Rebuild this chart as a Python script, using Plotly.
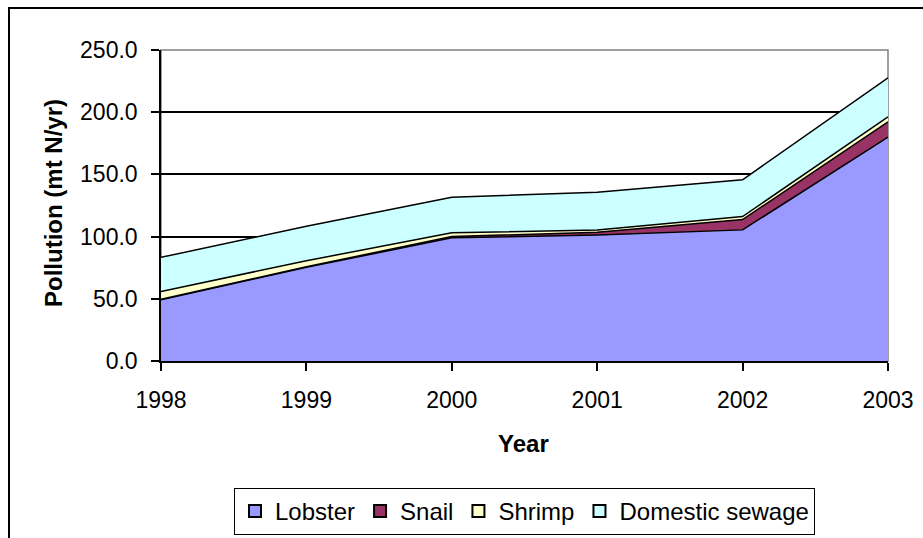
import plotly.graph_objects as go

years = [1998, 1999, 2000, 2001, 2002, 2003]
lobster = [49.2, 75.3, 99.0, 101.3, 105.4, 180.0]
snail = [0.5, 0.5, 1.0, 2.2, 8.3, 12.2]
shrimp = [6.2, 4.8, 3.0, 1.9, 2.4, 4.0]
sewage = [27.4, 27.7, 28.7, 30.3, 29.6, 31.5]

series_names = ["Lobster", "Snail", "Shrimp", "Domestic sewage"]
series_values = [lobster, snail, shrimp, sewage]
series_colors = ["#9999FF", "#993366", "#FFFFCC", "#CCFFFF"]

W, H = 923, 538
L, R, T, B = 161, 888, 50, 361

def px(x):
    return (x - L) / (R - L)

def py(y):
    return (B - y) / (B - T)

fig = go.Figure()
for name, vals, col in zip(series_names, series_values, series_colors):
    fig.add_trace(go.Scatter(
        x=years, y=vals, name=name, stackgroup="one", mode="lines",
        line=dict(color="black", width=1.5), fillcolor=col,
        showlegend=False, hoverinfo="x+y+name"))
for name, col in zip(series_names, series_colors):
    fig.add_trace(go.Scatter(
        x=[None], y=[None], name=name, mode="markers",
        marker=dict(symbol="square", size=12, color=col,
                    line=dict(color="black", width=1.2)),
        showlegend=True))

font_family = "Liberation Sans, Arial, sans-serif"

fig.update_layout(
    width=W, height=H,
    margin=dict(l=L, r=W - R, t=T, b=H - B, pad=0, autoexpand=False),
    paper_bgcolor="white", plot_bgcolor="white",
    font=dict(family=font_family, size=23, color="black"),
    showlegend=True,
    legend=dict(orientation="h", x=0.5, xanchor="center",
                y=py(488), yanchor="top", traceorder="normal",
                bordercolor="black", borderwidth=1,
                font=dict(size=24), itemsizing="constant",
                bgcolor="white"),
    xaxis=dict(range=[1998, 2003], tickmode="array", tickvals=years,
               ticktext=[str(y) for y in years],
               showgrid=False, zeroline=False,
               showline=True, linecolor="black", linewidth=1.5,
               ticks="outside", ticklen=8, tickwidth=1.5, tickcolor="black",
               tickfont=dict(size=23), ticklabelstandoff=10),
    yaxis=dict(range=[0, 250], dtick=50, tickformat=".1f",
               showgrid=True, gridcolor="black", gridwidth=1.5,
               zeroline=False,
               showline=True, linecolor="black", linewidth=1.5,
               ticks="outside", ticklen=8, tickwidth=1.5, tickcolor="black",
               tickfont=dict(size=23), ticklabelstandoff=9),
    shapes=[
        dict(type="rect", xref="paper", yref="paper",
             x0=0, x1=1, y0=0, y1=1,
             line=dict(color="#808080", width=1.5), layer="below"),
        dict(type="rect", xref="paper", yref="paper",
             x0=px(9), x1=px(930), y0=py(548), y1=py(8),
             line=dict(color="black", width=2), layer="above"),
    ],
    annotations=[
        dict(text="<b>Pollution (mt N/yr)</b>", xref="paper", yref="paper",
             x=px(53), y=py(203), textangle=-90, showarrow=False,
             xanchor="center", yanchor="middle", font=dict(size=24)),
        dict(text="<b>Year</b>", xref="paper", yref="paper",
             x=px(523), y=py(443), showarrow=False,
             xanchor="center", yanchor="middle", font=dict(size=24)),
    ],
)

fig.write_html(
    "out.html",
    config={"displayModeBar": False},
    post_script="document.body.style.margin='0';document.body.style.overflow='hidden';",
)
